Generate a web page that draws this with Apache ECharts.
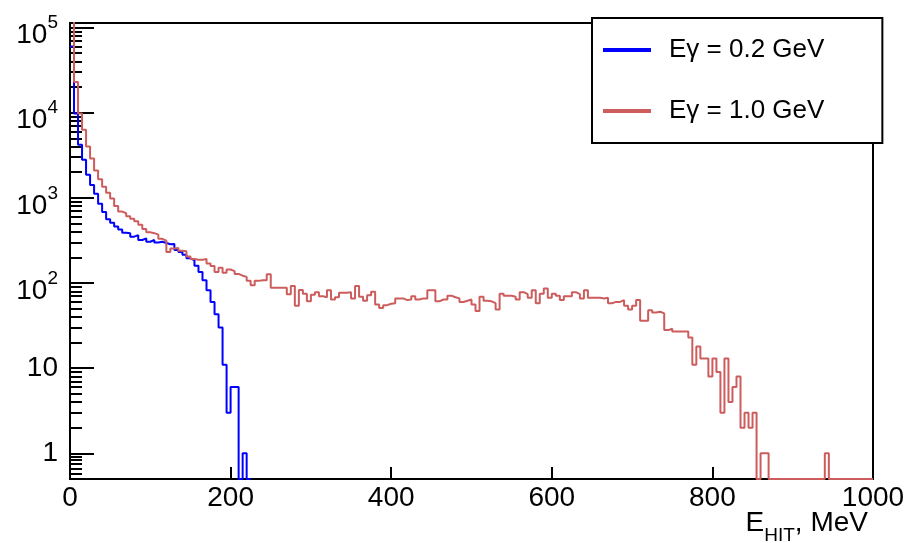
<!DOCTYPE html>
<html>
<head>
<meta charset="utf-8">
<script src="https://cdn.jsdelivr.net/npm/echarts@6/dist/echarts.min.js"></script>
<style>
  html, body { margin: 0; padding: 0; background: #fff; }
  #chart { width: 906px; height: 543px; }
</style>
</head>
<body>
<div id="chart"></div>
<script>
// Hit-energy spectra, 5 MeV bins starting at 0 MeV (counts per bin)
const BIN_WIDTH = 5;

const seriesNames = ['Eγ = 0.2 GeV', 'Eγ = 1.0 GeV'];
const xAxisTitle = '{m|E}{s|HIT}{m|, MeV}';

// Eγ = 0.2 GeV, bins 0..44 (0 – 225 MeV)
const blueCounts = [
  60000, 9800, 4200, 2800, 1870, 1420, 1120, 850, 680, 560,
  510, 460, 425, 390, 385, 350, 365, 320, 335, 305,
  320, 300, 305, 295, 285, 288, 245, 232, 215, 195,
  185, 160, 135, 108, 82, 60, 43, 30, 11, 3,
  6, 6, 0, 1, 0
];

// Eγ = 1.0 GeV, bins 0..199 (0 – 1000 MeV)
const redCounts = [
  130000, 23000, 9800, 6300, 4000, 2900, 2100, 1650, 1350, 1150,
  980, 800, 690, 660, 610, 570, 530, 484, 430, 395,
  385, 370, 330, 315, 232, 255, 258, 240, 236, 205,
  192, 188, 188, 192, 170, 158, 135, 151, 132, 144,
  138, 128, 122, 118, 106, 94, 106, 108, 108, 127,
  88, 88, 88, 88, 74, 92, 54, 83, 75, 61,
  73, 78, 70, 68, 82, 64, 68, 77, 77, 78,
  66, 92, 69, 62, 72, 79, 56, 51, 55, 57,
  58, 66, 66, 63, 64, 70, 64, 66, 66, 82,
  82, 61, 64, 64, 71, 68, 66, 60, 62, 64,
  56, 47, 69, 62, 61, 58, 49, 75, 71, 71,
  69, 64, 78, 74, 67, 82, 58, 75, 86, 67,
  75, 71, 63, 70, 70, 78, 74, 66, 82, 67,
  67, 67, 66, 67, 58, 60, 60, 63, 54, 49,
  54, 63, 36, 36, 48, 45, 46, 44, 28, 29,
  27, 27, 27, 27, 23, 11, 18, 13, 13, 8,
  13, 9, 3, 13, 4, 6, 8, 2, 3, 2,
  3, 0, 1, 1, 0, 0, 0, 0, 0, 0,
  0, 0, 0, 0, 0, 0, 0, 0, 1, 0,
  0, 0, 0, 0, 0, 0, 0, 0, 0, 0
];

// Axis ranges and tick positions
const X_MIN = 0, X_MAX = 1000, X_STEP = 200;
const Y_MIN = 0.5, Y_MAX = 113000;
const yMajorTicks = [1, 10, 100, 1000, 10000, 100000];
const yMinorTicks = [
  0.5833, 0.6667, 0.75, 0.8333, 0.9167,
  2, 3, 4, 5, 6, 7, 8, 9,
  20, 30, 40, 50, 60, 70, 80, 90,
  200, 300, 400, 500, 600, 700, 800, 900,
  2000, 3000, 4000, 5000, 6000, 7000, 8000, 9000,
  20000, 30000, 40000, 50000, 60000, 70000, 80000, 90000
];

const FONT = '"Liberation Sans", Arial, Helvetica, sans-serif';
const INK = '#000';

// Histogram outline: one point per bin low edge, empty bins sit on the axis floor,
// and a closing point at the upper edge of the last bin.
function histogramOutline(counts) {
  const pts = counts.map((c, k) => [k * BIN_WIDTH, c > 0 ? c : Y_MIN]);
  pts.push([counts.length * BIN_WIDTH, Y_MIN]);
  return pts;
}

function decadeLabel(v) {
  const e = Math.round(Math.log10(v));
  if (e === 0) return '1';
  if (e === 1) return '10';
  return '{b|10}{s|' + e + '}';
}

const chart = echarts.init(document.getElementById('chart'), null, { renderer: 'canvas' });

chart.setOption({
  animation: false,
  backgroundColor: '#fff',
  title: {
    text: xAxisTitle,
    right: 38, top: 509,
    padding: 0,
    textStyle: {
      fontSize: 28, color: INK, fontFamily: FONT, fontWeight: 'normal',
      rich: {
        m: { fontSize: 28, lineHeight: 28, color: INK, fontFamily: FONT, verticalAlign: 'top' },
        s: { fontSize: 19, lineHeight: 19, color: INK, fontFamily: FONT, verticalAlign: 'top', padding: [17, 0, 0, 0] }
      }
    }
  },
  grid: {
    left: 70, right: 33, top: 23, bottom: 64,
    show: true, borderColor: INK, borderWidth: 2,
    backgroundColor: 'transparent',
    containLabel: false,
    outerBoundsMode: 'none'
  },
  legend: {
    orient: 'vertical',
    left: 592, top: 18,
    padding: [19, 58, 19, 11],
    itemGap: 35,
    itemWidth: 48, itemHeight: 4,
    icon: 'rect',
    selectedMode: false,
    backgroundColor: '#fff',
    borderColor: INK, borderWidth: 2, borderRadius: 0,
    textStyle: { fontSize: 26, lineHeight: 26, color: INK, fontFamily: FONT, padding: [0, 0, 0, 13] },
    data: seriesNames
  },
  xAxis: {
    type: 'value',
    min: X_MIN, max: X_MAX, interval: X_STEP,
    axisLine: { show: true, onZero: false, lineStyle: { color: INK, width: 2 } },
    axisTick: { show: true, inside: true, length: 12, lineStyle: { color: INK, width: 2 } },
    axisLabel: {
      fontSize: 28, color: INK, fontFamily: FONT, margin: 5,
      showMinLabel: true, showMaxLabel: true,
      formatter: v => String(v)
    },
    splitLine: { show: false }
  },
  yAxis: [
    {
      type: 'log', logBase: 10,
      min: Y_MIN, max: Y_MAX,
      position: 'left',
      axisLine: { show: true, onZero: false, lineStyle: { color: INK, width: 2 } },
      axisTick: { show: true, inside: true, length: 24, customValues: yMajorTicks, lineStyle: { color: INK, width: 2 } },
      minorTick: { show: false },
      axisLabel: {
        customValues: yMajorTicks,
        formatter: decadeLabel,
        margin: 12,
        fontSize: 28, color: INK, fontFamily: FONT,
        rich: {
          b: { fontSize: 28, lineHeight: 28, color: INK, fontFamily: FONT, verticalAlign: 'top', padding: [8, 0, 0, 0] },
          s: { fontSize: 19, lineHeight: 19, color: INK, fontFamily: FONT, verticalAlign: 'top' }
        }
      },
      splitLine: { show: false }
    },
    {
      type: 'log', logBase: 10,
      min: Y_MIN, max: Y_MAX,
      position: 'left', offset: 0,
      axisLine: { show: false },
      axisTick: { show: true, inside: true, length: 12, customValues: yMinorTicks, lineStyle: { color: INK, width: 2 } },
      minorTick: { show: false },
      axisLabel: { show: false },
      splitLine: { show: false }
    }
  ],
  series: [
    {
      name: seriesNames[0],
      type: 'line', step: 'end',
      yAxisIndex: 0,
      data: histogramOutline(blueCounts),
      symbol: 'none', clip: true,
      lineStyle: { color: '#0000ff', width: 2 },
      itemStyle: { color: '#0000ff' },
      z: 3
    },
    {
      name: seriesNames[1],
      type: 'line', step: 'end',
      yAxisIndex: 0,
      data: histogramOutline(redCounts),
      symbol: 'none', clip: true,
      lineStyle: { color: '#cd5c5c', width: 2 },
      itemStyle: { color: '#cd5c5c' },
      z: 4
    }
  ]
});
</script>
</body>
</html>
